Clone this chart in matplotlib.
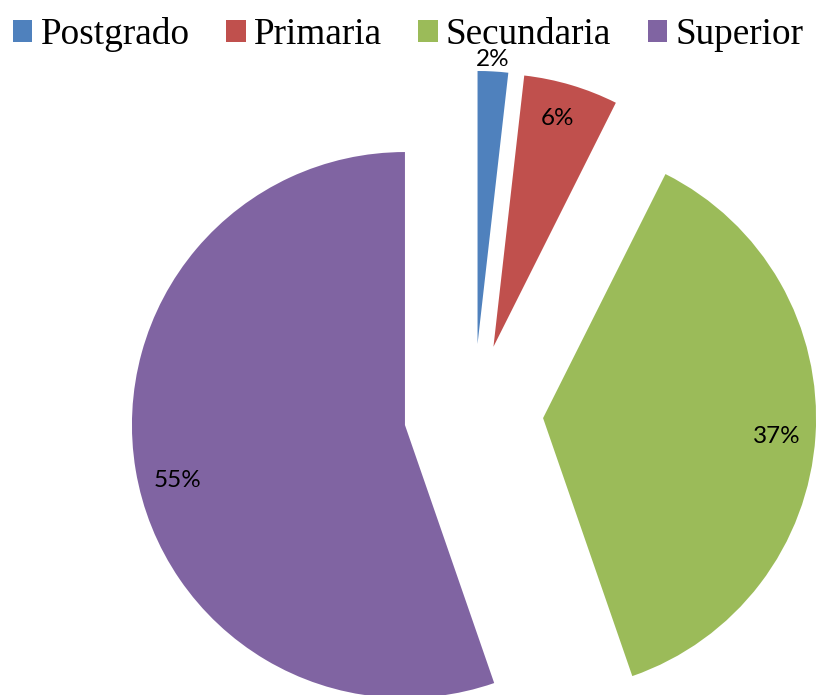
import matplotlib
matplotlib.use("Agg")
import matplotlib.pyplot as plt
import numpy as np

categories = ["Postgrado", "Primaria", "Secundaria", "Superior"]
values = [1.8, 5.6, 37.3, 55.3]
colors = ["#4F81BD", "#C0504D", "#9BBB59", "#8064A2"]
explode = [0.255, 0.255, 0.255, 0.255]

W, H, DPI = 816, 695, 100
fig = plt.figure(figsize=(W / DPI, H / DPI), dpi=DPI)
ax = fig.add_axes([0, 0, 1, 1])

scale = 273.0
cx, cy = 473.6, 413.5

wedges, texts, autotexts = ax.pie(
    values, colors=colors, explode=explode, startangle=90, counterclock=False,
    autopct="%1.0f%%", pctdistance=0.87, radius=1.0,
    wedgeprops=dict(linewidth=0),
    textprops=dict(fontsize=17.5, family=["Lato", "DejaVu Sans"], color="black"),
    frame=True,
)
ax.set_xlim(-cx / scale, (W - cx) / scale)
ax.set_ylim(-(H - cy) / scale, cy / scale)
ax.set_aspect("equal")
ax.axis("off")

# label placement (data coords relative to the pie centre)
label_xy = [(0.071, 1.296), (0.309, 1.082), (1.111, -0.086), (-1.086, -0.244)]
for t, (lx, ly) in zip(autotexts, label_xy):
    t.set_position((lx, ly))
    t.set_ha("center")
    t.set_va("center")

leg = fig.legend(
    wedges, categories, loc="upper left", bbox_to_anchor=(0.016, 0.975),
    ncol=4, frameon=False, prop=dict(family="Liberation Serif", size=26.8),
    handlelength=0.52, handleheight=0.52, handletextpad=0.22,
    columnspacing=0.98, borderpad=0.0, borderaxespad=0.0,
)

fig.savefig("out.png", dpi=DPI)
